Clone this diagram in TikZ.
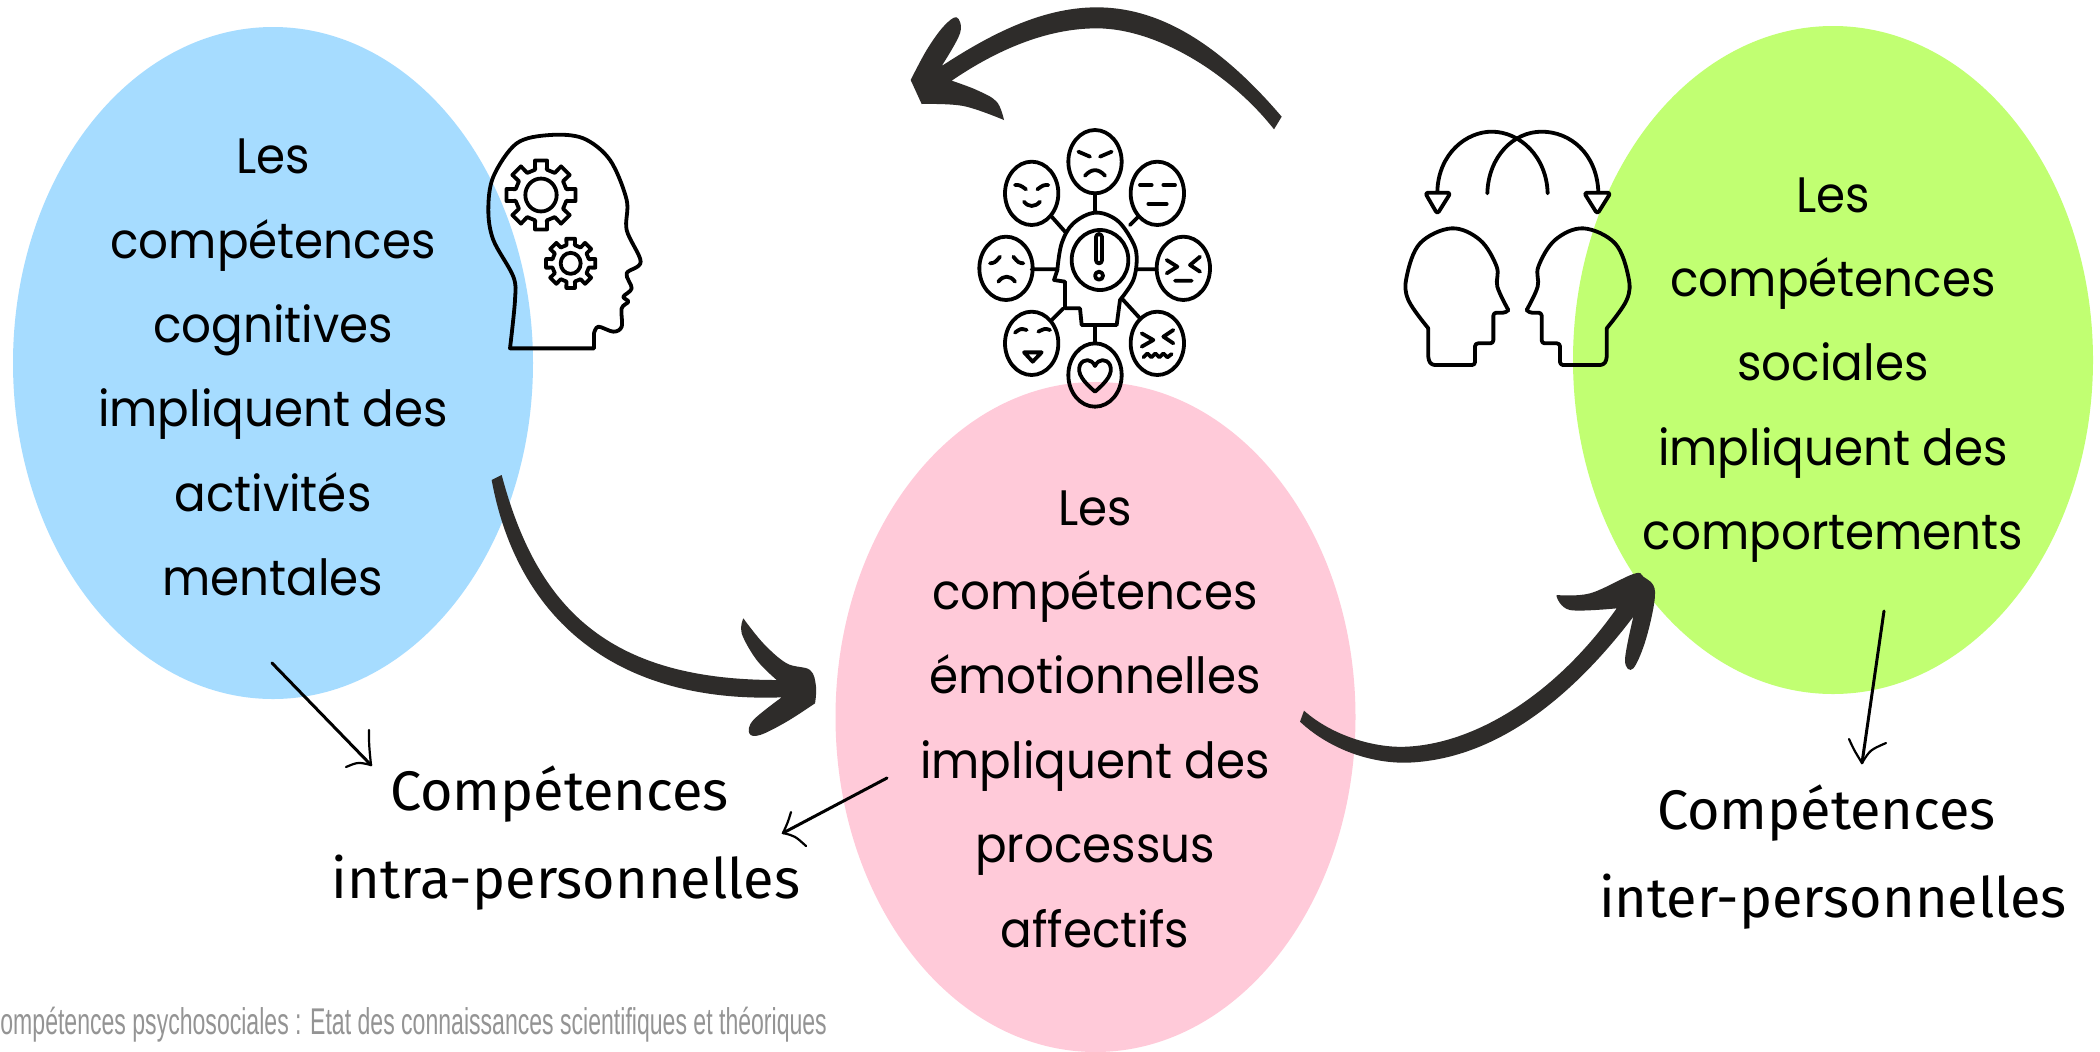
\documentclass[tikz,border=0pt]{standalone}
\usepackage{fontspec}
\setmainfont[FakeStretch=0.94]{Poppins}
\newfontfamily\plainsans{Fira Sans}
\newfontfamily\narrowsans[FakeStretch=0.62]{Liberation Sans}
\definecolor{cblue}{HTML}{A6DCFF}
\definecolor{cpink}{HTML}{FFCAD9}
\definecolor{cgreen}{HTML}{C1FF72}
\definecolor{brush}{HTML}{2E2C2A}
\tikzset{
  mainblock/.style={align=center,inner sep=0pt,text=black,font=\fontsize{24.9}{42.2}\selectfont},
  sideblock/.style={align=center,inner sep=0pt,text=black,font=\plainsans\fontsize{27.9}{44.2}\selectfont},
  sourceline/.style={anchor=west,inner sep=0pt,text=black!42,font=\narrowsans\fontsize{18.6}{20}\selectfont},
  zoomed/.style={x=0.16667pt,y=-0.16667pt},
  iconline/.style={draw=black,line width=1.9pt,line join=round,line cap=round},
  thinarrow/.style={draw=black,line width=1.5pt,line cap=round,line join=round},
}
\newcommand{\gearpath}[5]{% cx cy outer root hole
  \draw[iconline] ({#1+#4*cos(-13)},{#2+#4*sin(-13)}) \foreach \k in {0,...,7}{
    -- ({#1+#3*cos(\k*45-10)},{#2+#3*sin(\k*45-10)})
    -- ({#1+#3*cos(\k*45+10)},{#2+#3*sin(\k*45+10)})
    -- ({#1+#4*cos(\k*45+13)},{#2+#4*sin(\k*45+13)})
    -- ({#1+#4*cos(\k*45+32)},{#2+#4*sin(\k*45+32)})
  } -- cycle;
  \draw[iconline] (#1,#2) ellipse [x radius=#5,y radius=#5*1.05];
}
\begin{document}
\begin{tikzpicture}[x=0.5pt,y=-0.5pt]
\useasboundingbox (0,0) rectangle (2100,1051);
\fill[white] (0,0) rectangle (2100,1051);
\begin{scope}
\clip (0,0) rectangle (2100,1051);
% ellipses
\fill[cblue] (273,363) ellipse [x radius=260,y radius=336];
\fill[cpink] (1095.5,717) ellipse [x radius=260,y radius=335];
\fill[cgreen] (1833,360) ellipse [x radius=260,y radius=334];
% main texts
\node[mainblock] (cog) at (273,367.5) {Les\\compétences\\cognitives\\impliquent des\\activités\\mentales};
\node[mainblock] (emo) at (1095,719) {Les\\compétences\\émotionnelles\\impliquent des\\processus\\affectifs};
\node[mainblock] (soc) at (1833,370) {Les\\compétences\\sociales\\impliquent des\\comportements};
\node[sideblock] (intra) at (566,838) {Compétences\hspace*{6.7pt}\\intra-personnelles};
\node[sideblock] (inter) at (1833,857) {Compétences\hspace*{6.7pt}\\inter-personnelles};
\node[sourceline] (src) at (0,1025) {ompétences psychosociales : Etat des connaissances scientifiques et théoriques};

% thin arrows
\coordinate (a1s) at (272,663); \coordinate (a1t) at (371,765);
\coordinate (a1p) at (369,730); \coordinate (a1q) at (346,767);
\draw[thinarrow] (a1s) -- (a1t);
\draw[thinarrow,line width=1.1pt] (a1p) .. controls (369,745) .. (a1t) .. controls (358,762) .. (a1q);
\coordinate (a2s) at (887,778); \coordinate (a2t) at (783,833);
\coordinate (a2p) at (791,812); \coordinate (a2q) at (806,846);
\draw[thinarrow] (a2s) -- (a2t);
\draw[thinarrow,line width=1.1pt] (a2p) .. controls (788,822) .. (a2t) .. controls (795,836) .. (a2q);
\coordinate (a3s) at (1884,611); \coordinate (a3t) at (1862,763);
\coordinate (a3p) at (1849,739); \coordinate (a3q) at (1886,743);
\draw[thinarrow] (a3s) -- (a3t);
\draw[thinarrow,line width=1.1pt] (a3p) .. controls (1854,750) .. (a3t) .. controls (1870,750) .. (a3q);

% brush arrows
\begin{scope}[shift={(880,0)},zoomed]
\fill[brush] (1205,350) .. controls (1000,110) and (820,22) .. (650,22) .. controls (480,22) and (320,110) .. (185,198)
 -- plot[smooth,tension=0.6] coordinates {(185,198) (240,100) (230,52) (190,80) (140,150) (92,240)}
 -- (125,312) -- plot[smooth,tension=0.6] coordinates {(125,312) (250,318) (372,360)}
 -- plot[smooth,tension=0.6] coordinates {(372,360) (350,305) (290,270) (215,242)}
 .. controls (350,150) and (500,85) .. (650,85) .. controls (830,85) and (1050,220) .. (1182,388) -- cycle;
\end{scope}
\begin{scope}[shift={(480,460)},zoomed]
\fill[brush] (35,60) -- (65,45) .. controls (170,440) and (380,660) .. (890,660)
 -- plot[smooth,tension=0.6] coordinates {(890,660) (830,600) (785,520) (790,475)}
 -- plot[smooth,tension=0.6] coordinates {(790,475) (850,550) (920,610) (990,630) (1008,680) (1005,730)}
 -- plot[smooth,tension=0.6] coordinates {(1005,730) (920,785) (840,825) (808,820) (820,780) (905,712)}
 .. controls (400,730) and (110,470) .. (35,60) -- cycle;
\end{scope}
\begin{scope}[shift={(1290,560)},zoomed]
\fill[brush] (30,485) -- (42,452) .. controls (130,530) and (260,565) .. (350,560) .. controls (560,550) and (800,400) .. (980,145)
 -- plot[smooth,tension=0.6] coordinates {(980,145) (840,150) (800,110)}
 -- plot[smooth,tension=0.6] coordinates {(800,105) (900,100) (1030,42) (1060,50) (1095,95) (1070,230) (1030,325) (1005,300) (1030,170)}
 .. controls (840,420) and (610,600) .. (350,608) .. controls (230,610) and (110,560) .. (30,485) -- cycle;
\end{scope}

% head with gears
\begin{scope}[shift={(450,100)},zoomed]
\draw[iconline] (180,745) -- plot[smooth,tension=0.55] coordinates {(180,745) (195,600) (190,530) (130,420) (115,330) (130,230) (200,130) (300,105) (400,115) (480,180) (530,300) (530,390) (572,485) (530,520) (545,565) (520,590) (535,605) (515,625) (515,680) (490,695) (445,680) (432,700)} -- (432,745) -- cycle;
\gearpath{273}{285}{105}{78}{47}
\gearpath{362}{490}{75}{56}{30}
\end{scope}

% emotions icon
\begin{scope}[shift={(950,110)},zoomed]
\foreach \cx/\cy in {435/155,245/250,622/250,168/475,700/475,245/700,622/700,435/795}
  \draw[iconline] (\cx,\cy) ellipse [x radius=80,y radius=95];
% spokes
\draw[iconline] (435,250)--(435,305) (305,320)--(345,365) (540,345)--(565,320) (245,478)--(322,478)
  (560,478)--(620,478) (305,630)--(340,595) (515,565)--(570,625) (435,645)--(435,700);
% central head
\draw[iconline] (312,510) -- (322,480) -- plot[smooth,tension=0.6] coordinates {(322,480) (335,400) (370,340) (435,308) (500,330) (545,390) (560,440) (550,510) (510,570)} -- (500,645) -- (395,645) -- (390,595) -- (345,595) -- (345,515) -- cycle;
\draw[iconline] (450,450) ellipse [x radius=85,y radius=90];
\draw[iconline,rounded corners=1.5pt] (438,372) rectangle (456,460);
\draw[iconline] (447,497) circle [radius=12];
% faces
\draw[iconline] (385,125) -- (420,140) (485,125) -- (450,140);
\draw[iconline] (405,197) .. controls (425,175) and (445,175) .. (465,197);
\draw[iconline] (195,225) .. controls (210,225) .. (228,238) (295,225) .. controls (280,225) .. (262,238);
\draw[iconline] (222,275) .. controls (235,292) and (255,292) .. (270,275);
\draw[iconline] (570,225)--(605,225) (640,225)--(675,225) (595,282)--(650,282);
\draw[iconline] (120,460) .. controls (135,458) .. (150,440) (190,440) .. controls (205,458) .. (220,460);
\draw[iconline] (145,515) .. controls (160,495) and (180,495) .. (195,515);
\draw[iconline] (650,450)--(682,470)--(650,490) (750,440)--(720,465)--(750,485) (675,512)--(725,512);
\draw[iconline] (195,668) .. controls (212,655) .. (230,660) (265,665) .. controls (285,655) .. (300,660);
\draw[iconline] (222,727)--(275,727)--(248,755)--cycle;
\draw[iconline] (575,670)--(610,690)--(575,710) (670,660)--(640,680)--(670,700);
\draw[iconline] (580,742)--(592,730)--(604,742)--(616,730)--(628,742)--(640,730)--(652,742)--(665,732);
\draw[iconline] (435,845) .. controls (400,815) and (380,790) .. (390,765) .. controls (400,745) and (425,745) .. (435,768) .. controls (445,745) and (470,745) .. (480,765) .. controls (490,790) and (470,815) .. (435,845);
\end{scope}

% two heads icon
\begin{scope}[shift={(1380,110)},zoomed]
\draw[iconline] (172,245) .. controls (175,130) and (260,65) .. (335,65) .. controls (420,65) and (500,140) .. (503,250);
\draw[iconline] (322,250) .. controls (325,140) and (400,65) .. (485,65) .. controls (570,65) and (650,130) .. (655,245);
\draw[iconline,rounded corners=1.5pt] (135,248) -- (212,248) -- (172,312) -- cycle;
\draw[iconline,rounded corners=1.5pt] (612,248) -- (692,248) -- (652,312) -- cycle;
\draw[iconline] plot[smooth,tension=0.6] coordinates {(145,655) (85,570) (80,500) (120,400) (215,355) (300,390) (350,470) (352,530) (385,600)};
\draw[iconline,rounded corners=1.5pt] (385,600) -- (378,608) -- (340,608) -- (340,700) -- (285,700) -- (285,765) -- (155,765) -- (145,750) -- (145,655);
\draw[iconline] plot[smooth,tension=0.6] coordinates {(680,655) (740,570) (745,500) (705,400) (610,355) (525,390) (475,470) (473,530) (440,600)};
\draw[iconline,rounded corners=1.5pt] (440,600) -- (447,608) -- (485,608) -- (485,700) -- (540,700) -- (540,765) -- (670,765) -- (680,750) -- (680,655);
\end{scope}
\end{scope}
\end{tikzpicture}
\end{document}
